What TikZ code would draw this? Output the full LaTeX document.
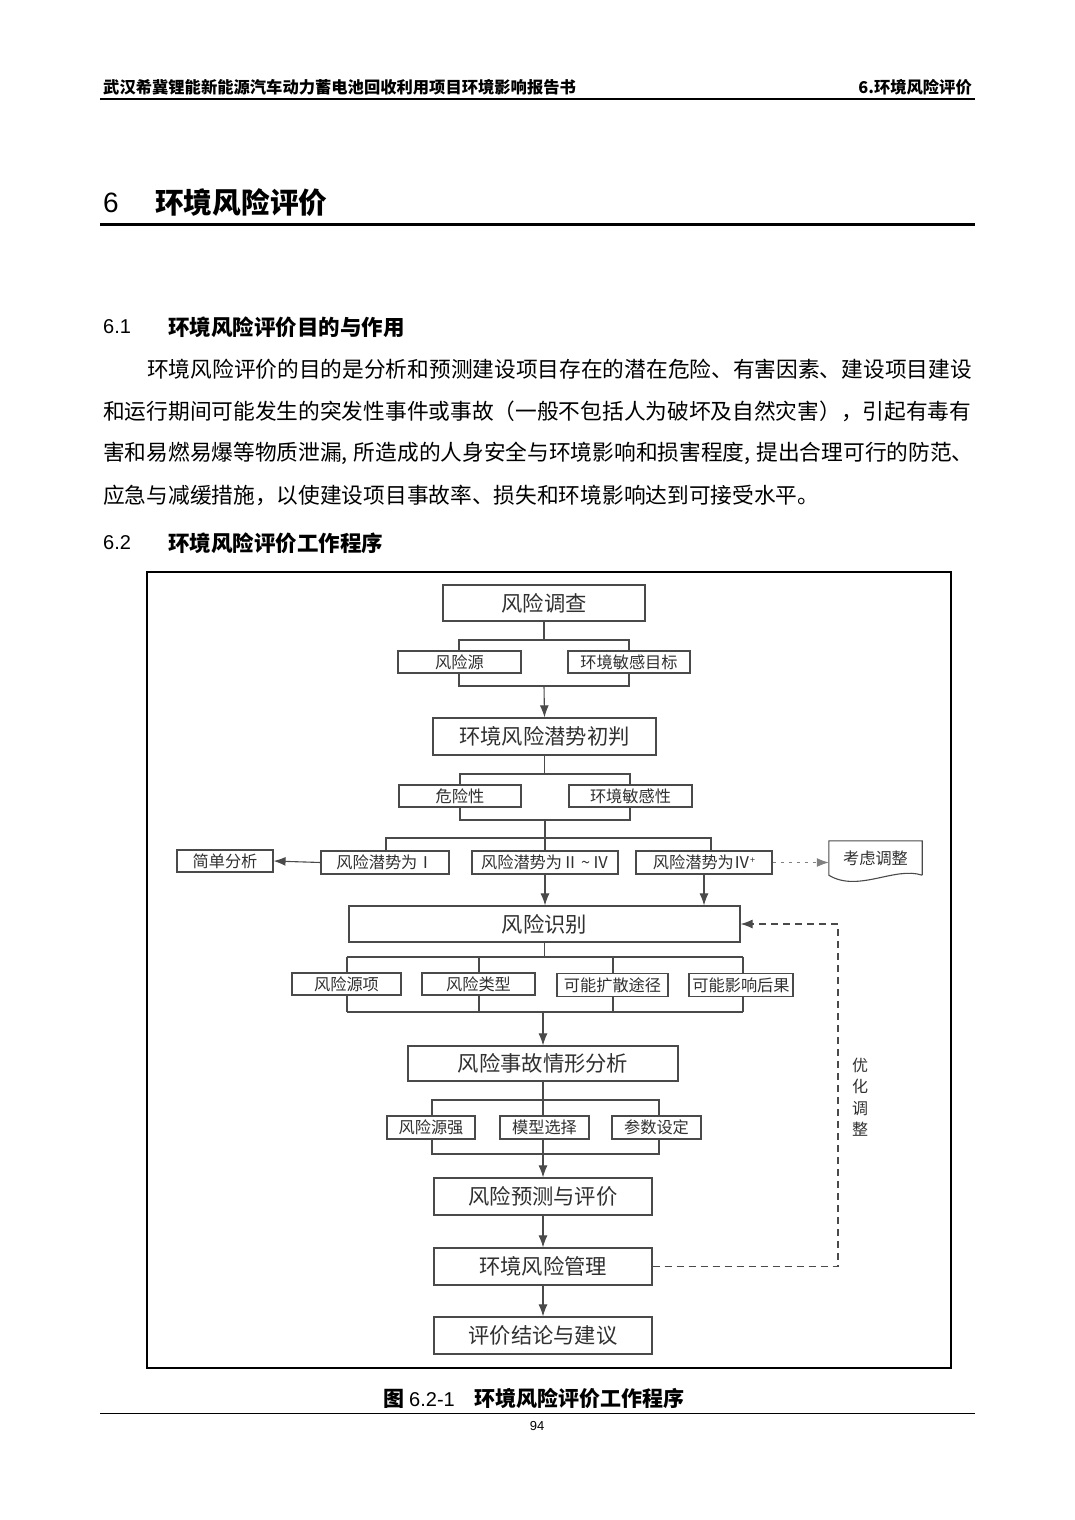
\documentclass[tikz,border=0pt]{standalone}
\usepackage{fontspec}
\setmainfont{Liberation Sans}
\newfontfamily\cjk{Noto Sans CJK SC}
\usetikzlibrary{arrows.meta,calc}
\definecolor{boxc}{HTML}{4A4A4A}
\definecolor{txtc}{HTML}{303030}
\begin{document}
\begin{tikzpicture}[x=1pt,y=-1pt,
  bigbox/.style={draw=boxc,line width=1.2pt,fill=white,inner sep=0pt,text=txtc,
    font=\cjk\fontsize{21.3}{21}\selectfont},
  smallbox/.style={draw=boxc,line width=1.1pt,fill=white,inner sep=0pt,text=txtc,
    font=\cjk\fontsize{16.2}{16}\selectfont},
  conn/.style={draw=boxc,line width=1.1pt},
  arr/.style={conn,-{Latex[length=12pt,width=9pt]}},
  bodytxt/.style={anchor=west,inner sep=0pt,font=\cjk\fontsize{21.7}{22}\selectfont},
  headtxt/.style={inner sep=0pt,font=\cjk\bfseries\fontsize{16.3}{17}\selectfont},
  sectxt/.style={anchor=west,inner sep=0pt,font=\cjk\bfseries\fontsize{21.5}{22}\selectfont},
  numtxt/.style={anchor=west,inner sep=0pt,font=\fontsize{20}{20}\selectfont}]
\useasboundingbox (0,0) rectangle (1074,1520);
\fill[white] (0,0) rectangle (1074,1520);

% ---------- page header ----------
\node[headtxt,anchor=west] (hdrL) at (103,87) {武汉希冀锂能新能源汽车动力蓄电池回收利用项目环境影响报告书};
\node[headtxt,anchor=east] (hdrR) at (972,87) {6.环境风险评价};
\draw[line width=1.2pt] (100,99) -- (975,99);

% ---------- chapter title ----------
\node[anchor=west,inner sep=0pt,font=\fontsize{28}{28}\selectfont] (ttlnum) at (103,203) {6};
\node[anchor=west,inner sep=0pt,font=\cjk\bfseries\fontsize{28.7}{29}\selectfont] (ttl) at (155,203) {环境风险评价};
\draw[line width=3pt] (100,224) -- (975,224);

% ---------- section 6.1 ----------
\node[numtxt] (h61n) at (103,327) {6.1};
\node[sectxt] (h61) at (168,327) {环境风险评价目的与作用};
\node[bodytxt] (para1) at (147,369) {环境风险评价的目的是分析和预测建设项目存在的潜在危险、有害因素、建设项目建设};
\node[bodytxt] (para2) at (103,411) {和运行期间可能发生的突发性事件或事故（一般不包括人为破坏及自然灾害），引起有毒有};
\node[bodytxt] (para3) at (103,453) {害和易燃易爆等物质泄漏,\hspace{6pt}所造成的人身安全与环境影响和损害程度,\hspace{6pt}提出合理可行的防范、};
\node[bodytxt] (para4) at (103,495) {应急与减缓措施，以使建设项目事故率、损失和环境影响达到可接受水平。};

% ---------- section 6.2 ----------
\node[numtxt] (h62n) at (103,543) {6.2};
\node[sectxt] (h62) at (168,543) {环境风险评价工作程序};

% ---------- diagram frame ----------
\draw[line width=2.6pt] (147,572) rectangle (951,1368);

% bracket lines (drawn first, boxes cover them)
\draw[conn] (459,640) rectangle (629,686);
\draw[conn] (460,774) rectangle (630,820);
\draw[conn] (386,850) -- (386,838) -- (711,838) -- (711,850);
\draw[conn] (545,838) -- (545,850);
\draw[conn] (347,957) -- (743,957);
\draw[conn] (347,1012) -- (743,1012);
\foreach \xx in {347,479,613,743} \draw[conn] (\xx,957) -- (\xx,1012);
\draw[conn] (432,1100) rectangle (659,1154);

% boxes
\node[bigbox,minimum width=202pt,minimum height=36pt] (survey) at (544,603) {风险调查};
\node[smallbox,minimum width=123pt,minimum height=22pt] (src) at (459.5,662) {风险源};
\node[smallbox,minimum width=122pt,minimum height=22pt] (sens) at (629,662) {环境敏感目标};
\node[bigbox,minimum width=223pt,minimum height=37pt] (prelim) at (544.5,736.5) {环境风险潜势初判};
\node[smallbox,minimum width=122pt,minimum height=22pt] (haz) at (460,796) {危险性};
\node[smallbox,minimum width=123pt,minimum height=22pt] (envs) at (630.5,796) {环境敏感性};

\node[smallbox,minimum width=128pt,minimum height=23pt] (pot1) at (385,862.5) {风险潜势为Ⅰ};
\node[smallbox,minimum width=146pt,minimum height=23pt] (pot2) at (545,862.5) {风险潜势为Ⅱ\,\textasciitilde\,Ⅳ};
\node[smallbox,minimum width=136pt,minimum height=23pt] (pot3) at (704,862.5) {风险潜势为Ⅳ\raisebox{5pt}{\fontsize{9}{9}\selectfont +}};
\node[smallbox,minimum width=96pt,minimum height=22pt] (simple) at (225,861) {简单分析};

% document shape: 考虑调整
\node[inner sep=0pt,minimum width=93pt,minimum height=34pt,text=txtc,
      font=\cjk\fontsize{16.2}{16}\selectfont] (consider) at (875.5,858) {考虑调整};
\draw[draw=boxc,line width=1.1pt] (consider.south east) -- (consider.north east) -- (consider.north west) -- (consider.south west)
  .. controls (858,893) and (895,866) .. (consider.south east);

\node[bigbox,minimum width=391pt,minimum height=36pt] (ident) at (544.5,924) {风险识别};
\node[smallbox,minimum width=109pt,minimum height=22pt] (r1) at (346.5,984) {风险源项};
\node[smallbox,minimum width=113pt,minimum height=22pt] (r2) at (478.5,984) {风险类型};
\node[smallbox,minimum width=111pt,minimum height=23pt] (r3) at (612.5,985) {可能扩散途径};
\node[smallbox,minimum width=104pt,minimum height=23pt] (r4) at (741,985) {可能影响后果};

\node[bigbox,minimum width=270pt,minimum height=35pt] (scen) at (543,1063.5) {风险事故情形分析};

% center line through row 5 (before the boxes)
\draw[conn] (scen.south) -- (543,1154);

\node[smallbox,minimum width=88pt,minimum height=23pt] (q1) at (431,1127.5) {风险源强};
\node[smallbox,minimum width=89pt,minimum height=23pt] (q2) at (544.5,1127.5) {模型选择};
\node[smallbox,minimum width=89pt,minimum height=23pt] (q3) at (656.5,1127.5) {参数设定};

\node[bigbox,minimum width=218pt,minimum height=37pt] (pred) at (543,1196.5) {风险预测与评价};
\node[bigbox,minimum width=218pt,minimum height=37pt] (mgmt) at (543,1266.5) {环境风险管理};
\node[bigbox,minimum width=218pt,minimum height=37pt] (concl) at (543,1335.5) {评价结论与建议};

\node[inner sep=0pt,align=center,text=txtc,font=\cjk\fontsize{16}{21.5}\selectfont] (opt) at (860,1097) {优\\化\\调\\整};

% connectors
\draw[conn] (survey.south) -- (544,640);
\draw[arr] (544,686) -- (prelim.north);
\draw[conn] (prelim.south) -- (544.5,774);
\draw[conn] (545,820) -- (545,838);
\draw[arr] (pot1.west) -- (simple.east);
\draw[arr,draw=gray,dash pattern=on 3pt off 5pt] (pot3.east) -- (pot3.east -| consider.west);
\draw[arr] (pot2.south) -- (pot2.south |- ident.north);
\draw[arr] (pot3.south) -- (pot3.south |- ident.north);
\draw[conn] (ident.south) -- (544.5,957);
\draw[arr] (544,1012) -- (544,1012 -| scen.north) -- (scen.north);
\draw[arr] (543,1154) -- (pred.north);
\draw[arr] (pred.south) -- (mgmt.north);
\draw[arr] (mgmt.south) -- (concl.north);
\draw[arr,dash pattern=on 7pt off 5pt] (mgmt.east) -- (838,1266.5) -- (838,924) -- (ident.east);

% ---------- caption & footer ----------
\node[anchor=west,inner sep=0pt,font=\cjk\bfseries\fontsize{21}{22}\selectfont] (cap) at (383,1398)
  {图\hspace{5pt}{\fontspec{Liberation Sans}\mdseries\fontsize{20}{20}\selectfont 6.2-1}\hspace{20pt}环境风险评价工作程序};
\draw[line width=0.8pt] (100,1413) -- (975,1413);
\node[inner sep=0pt,font=\fontsize{13}{13}\selectfont] (pgnum) at (537,1426) {94};
\end{tikzpicture}
\end{document}
